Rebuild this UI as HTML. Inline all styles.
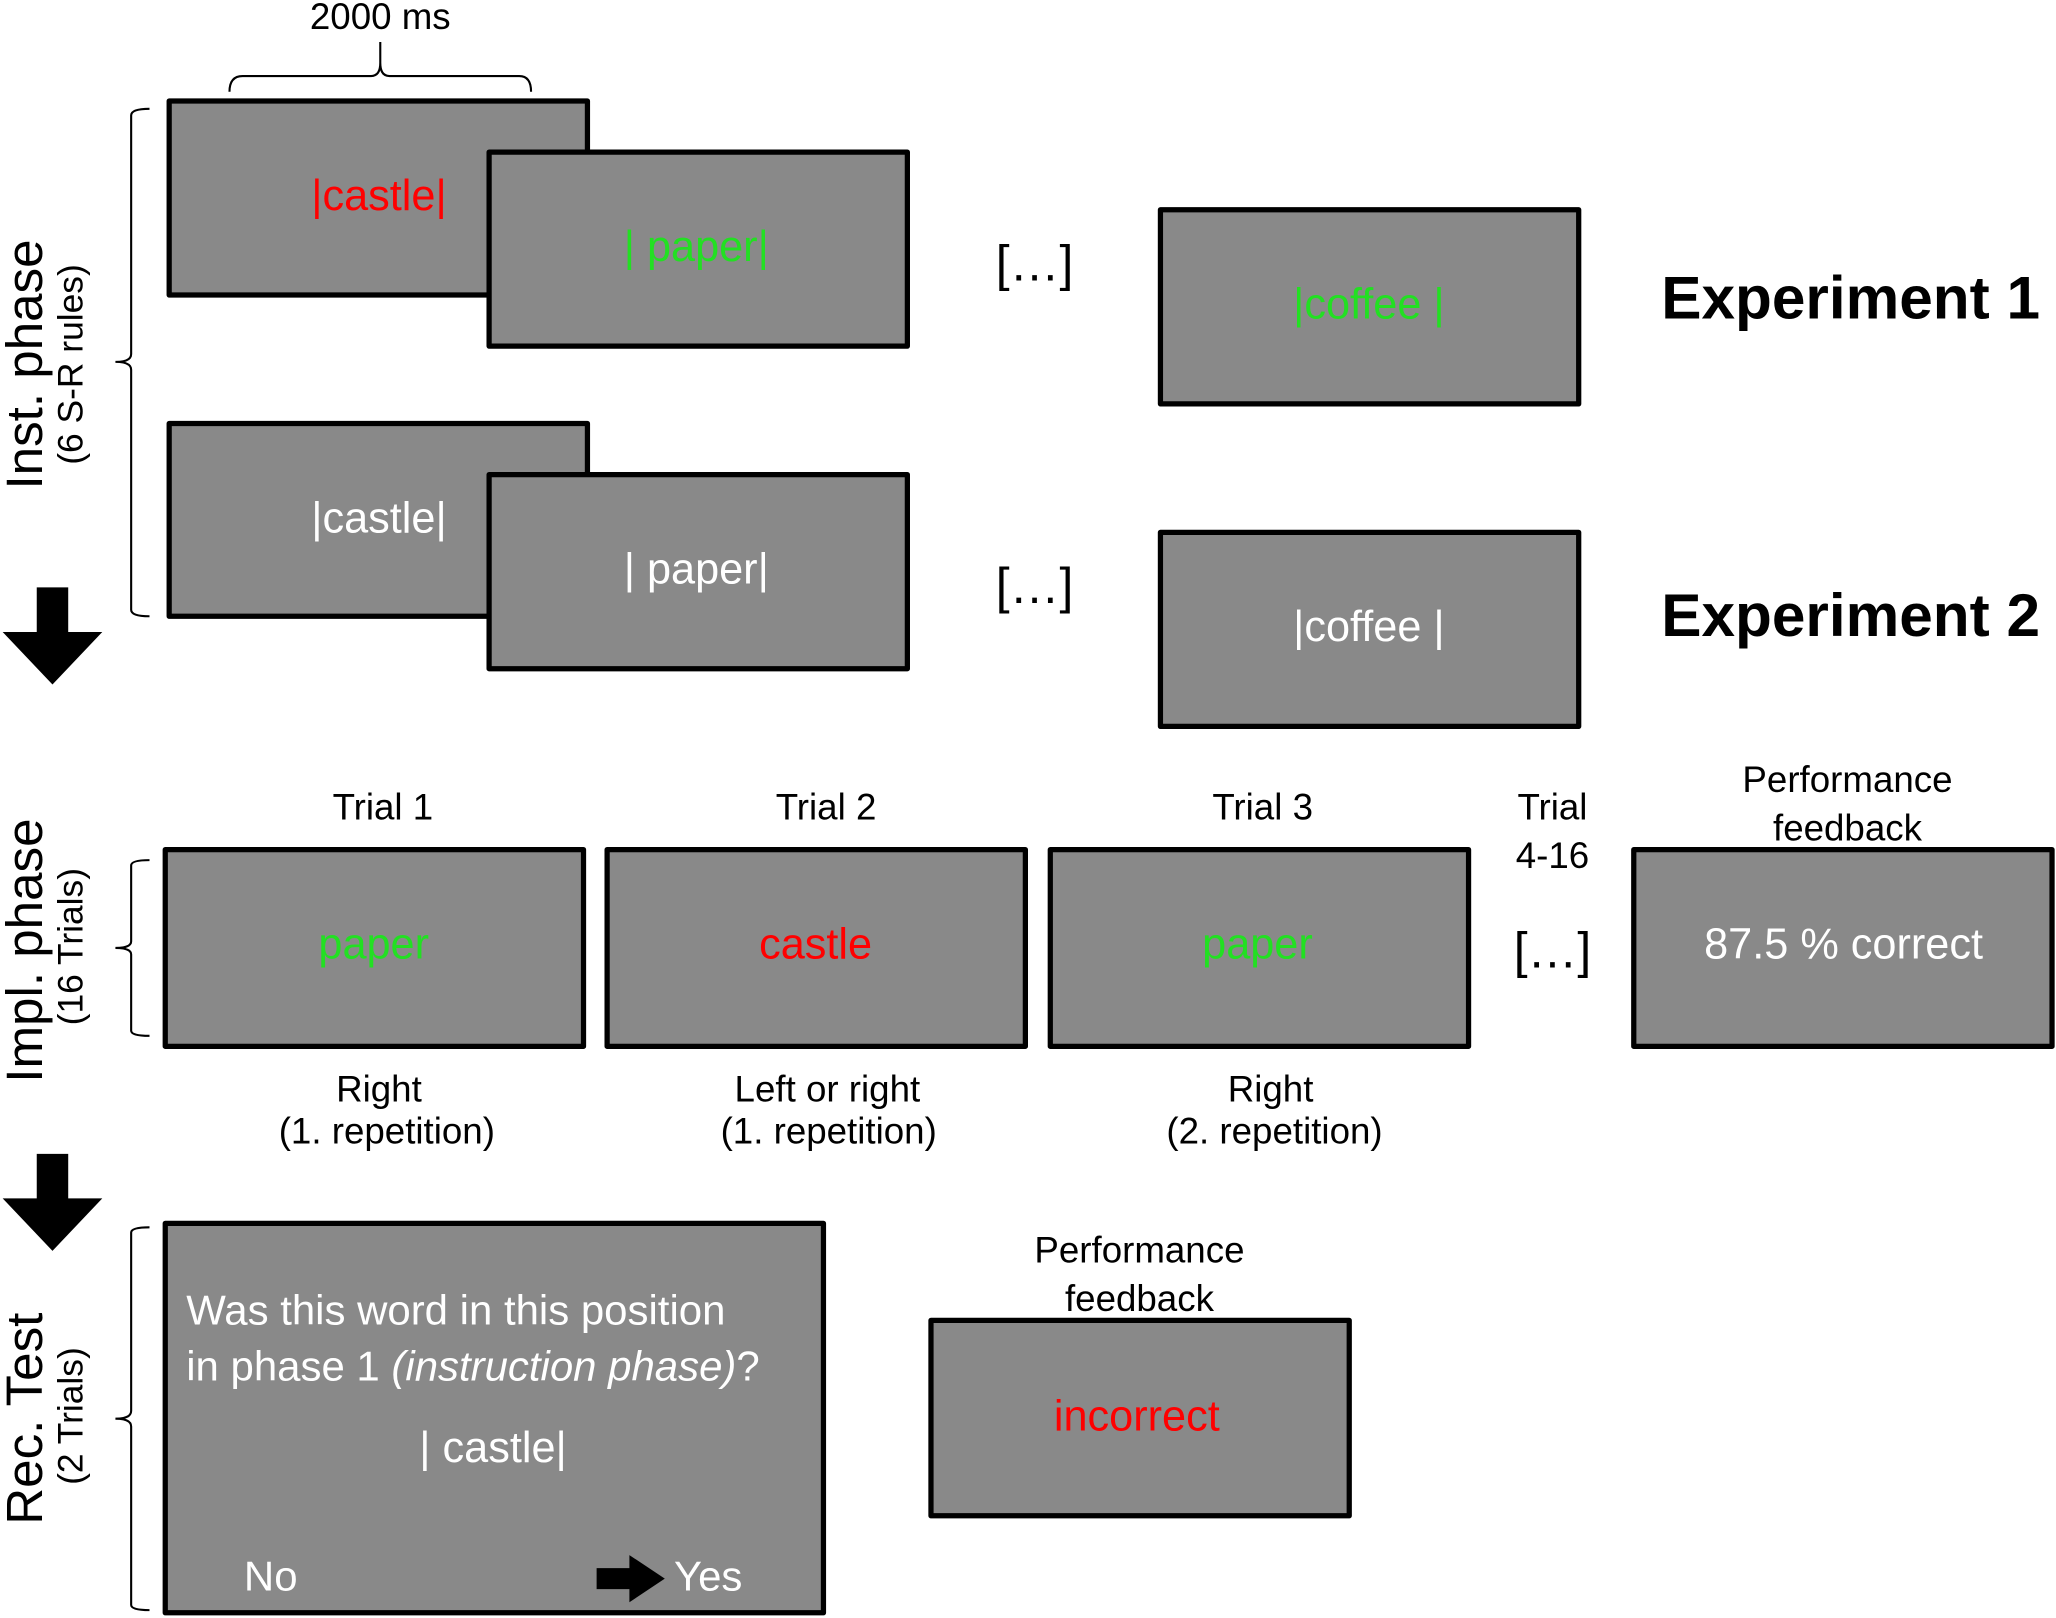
<!DOCTYPE html>
<html><head><meta charset="utf-8"><style>
html,body{margin:0;padding:0;background:#fff;}
svg{display:block;}
text{font-family:"Liberation Sans",Arial,sans-serif;}
</style></head><body>
<svg width="2056" height="1618" viewBox="0 0 1568 1234" xmlns="http://www.w3.org/2000/svg">
<g fill="#898989" stroke="#000" stroke-width="4" stroke-linejoin="round">
<rect x="129" y="77" width="319" height="148"/>
<rect x="373" y="116" width="319" height="148"/>
<rect x="885" y="160" width="319" height="148"/>
<rect x="129" y="323" width="319" height="147"/>
<rect x="373" y="362" width="319" height="148"/>
<rect x="885" y="406" width="319" height="148"/>
<rect x="126" y="648" width="319" height="150"/>
<rect x="463" y="648" width="319" height="150"/>
<rect x="801" y="648" width="319" height="150"/>
<rect x="1246" y="648" width="319" height="150"/>
<rect x="126" y="933" width="502" height="297"/>
<rect x="710" y="1007" width="319" height="149"/>
</g>
<g font-size="33" text-anchor="middle">
<text x="289" y="160" fill="#ff0000">|castle|</text>
<text x="531" y="199" fill="#22e022">| paper|</text>
<text x="1044" y="243" fill="#22e022">|coffee |</text>
<text x="289" y="406" fill="#fff">|castle|</text>
<text x="531" y="445" fill="#fff">| paper|</text>
<text x="1044" y="489" fill="#fff">|coffee |</text>
<text x="285" y="731" fill="#22e022">paper</text>
<text x="622" y="731" fill="#ff0000">castle</text>
<text x="959" y="731" fill="#22e022">paper</text>
<text x="1406" y="731" fill="#fff">87.5 % correct</text>
<text x="867" y="1091" fill="#ff0000">incorrect</text>
<text x="376" y="1115" fill="#fff">| castle|</text>
</g>
<g font-size="38" text-anchor="middle">
<text x="789" y="214">[…]</text>
<text x="789" y="460">[…]</text>
<text x="1184" y="738">[…]</text>
</g>
<text x="1267" y="243" font-size="46" font-weight="bold">Experiment 1</text>
<text x="1267" y="485" font-size="46" font-weight="bold">Experiment 2</text>
<g font-size="28" text-anchor="middle">
<text x="290" y="22">2000 ms</text>
<text x="292" y="625">Trial 1</text>
<text x="630" y="625">Trial 2</text>
<text x="963" y="625">Trial 3</text>
<text x="1184" y="625">Trial</text>
<text x="1184" y="662">4-16</text>
<text x="1409" y="604">Performance</text>
<text x="1409" y="641">feedback</text>
<text x="289" y="840">Right</text>
<text x="295" y="872">(1. repetition)</text>
<text x="631" y="840">Left or right</text>
<text x="632" y="872">(1. repetition)</text>
<text x="969" y="840">Right</text>
<text x="972" y="872">(2. repetition)</text>
<text x="869" y="963">Performance</text>
<text x="869" y="1000">feedback</text>
</g>
<g font-size="32" fill="#fff">
<text x="142" y="1010">Was this word in this position</text>
<text x="142" y="1053">in phase 1 <tspan font-style="italic">(instruction phase)</tspan>?</text>
<text x="186" y="1213">No</text>
<text x="514" y="1213">Yes</text>
</g>
<polygon points="455,1196 480,1196 480,1186 507,1204 480,1222 480,1212 455,1212" fill="#000"/>
<text transform="translate(32,278) rotate(-90)" font-size="39" text-anchor="middle">Inst. phase</text>
<text transform="translate(63,278) rotate(-90)" font-size="27" text-anchor="middle">(6 S-R rules)</text>
<text transform="translate(32,725) rotate(-90)" font-size="39" text-anchor="middle">Impl. phase</text>
<text transform="translate(63,722) rotate(-90)" font-size="27" text-anchor="middle">(16 Trials)</text>
<text transform="translate(32,1082) rotate(-90)" font-size="39" text-anchor="middle">Rec. Test</text>
<text transform="translate(63,1080) rotate(-90)" font-size="27" text-anchor="middle">(2 Trials)</text>
<g fill="none" stroke="#000" stroke-width="1.6">
<path d="M175,70 Q175,58 185,58 L283,58 Q290,58 290,48 L290,32 M290,48 Q290,58 297,58 L396,58 Q405,58 405,70"/>
<path d="M114,83 Q100,83 100,88 L100,270 Q100,276 88,276 Q100,276 100,282 L100,465 Q100,470 114,470"/>
<path d="M114,656 Q100,656 100,660 L100,718 Q100,723 88,723 Q100,723 100,728 L100,786 Q100,790 114,790"/>
<path d="M114,936 Q100,936 100,940 L100,1076 Q100,1082 88,1082 Q100,1082 100,1088 L100,1224 Q100,1228 114,1228"/>
</g>
<polygon points="28,448 52,448 52,482 78,482 40,522 2,482 28,482" fill="#000"/>
<polygon points="28,880 52,880 52,914 78,914 40,954 2,914 28,914" fill="#000"/>
</svg>
</body></html>
